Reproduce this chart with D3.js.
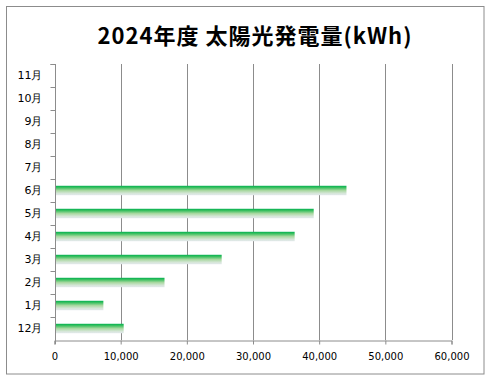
<!DOCTYPE html>
<html>
<head>
<meta charset="utf-8">
<script src="https://cdn.jsdelivr.net/npm/d3@7"></script>
<style>
  body { margin: 0; background: #fff; }
</style>
</head>
<body>
<script>
var title = "2024年度 太陽光発電量(kWh)"
var months = ["12月", "1月", "2月", "3月", "4月", "5月", "6月", "7月", "8月", "9月", "10月", "11月"]
var values = [10380, 7310, 16550, 25190, 36220, 39100, 44050, null, null, null, null, null]
var xTicks = [0, 10000, 20000, 30000, 40000, 50000, 60000]

var W = 490, H = 382
var mLeft = 54.5, mRight = 451.5, mTop = 64, mBottom = 340

var svg = d3.select("body").append("svg")
    .attr("width", W)
    .attr("height", H)

// gradient for bars: green on top fading to pale grey
var grad = svg.append("defs").append("linearGradient")
    .attr("id", "barGrad")
    .attr("x1", 0).attr("y1", 0).attr("x2", 0).attr("y2", 1)
grad.append("stop").attr("offset", "0%").attr("stop-color", "#00b050")
grad.append("stop").attr("offset", "20%").attr("stop-color", "#3cc060")
grad.append("stop").attr("offset", "50%").attr("stop-color", "#a8d8a0")
grad.append("stop").attr("offset", "80%").attr("stop-color", "#d6e6d8")
grad.append("stop").attr("offset", "100%").attr("stop-color", "#e2e8ec")

// outer frame
svg.append("rect")
    .attr("x", 6.5).attr("y", 6.5)
    .attr("width", 477.5).attr("height", 367.5)
    .attr("fill", "#fff")
    .attr("stroke", "#8c8c8c")
    .attr("stroke-width", 1)

svg.append("text")
    .attr("x", 255).attr("y", 44)
    .attr("text-anchor", "middle")
    .style("font-family", "'Noto Sans CJK JP', sans-serif")
    .style("font-weight", "bold")
    .style("font-size", "22px")
    .style("letter-spacing", "1px")
    .text(title)

var x = d3.scaleLinear().domain([0, 60000]).range([mLeft, mRight])
var y = d3.scaleBand().domain(months).range([mBottom, mTop]).paddingInner(0.59).paddingOuter(0.295)
var yb = d3.scaleBand().domain(months).range([mBottom, mTop])

// vertical gridlines
svg.append("g")
  .selectAll("line")
  .data(xTicks.slice(1))
  .enter().append("line")
    .attr("x1", function(d) { return Math.round(x(d)) + 0.5 })
    .attr("x2", function(d) { return Math.round(x(d)) + 0.5 })
    .attr("y1", mTop)
    .attr("y2", mBottom)
    .attr("stroke", "#8c8c8c")

// bars
svg.append("g")
  .selectAll("rect")
  .data(months.map(function(m, i) { return { m: m, v: values[i] } }).filter(function(d) { return d.v != null }))
  .enter().append("rect")
    .attr("x", x(0) + 0.5)
    .attr("y", function(d) { return y(d.m) })
    .attr("width", function(d) { return x(d.v) - x(0) })
    .attr("height", y.bandwidth())
    .attr("fill", "url(#barGrad)")

// x axis
var xAxis = svg.append("g")
    .attr("transform", "translate(0," + (mBottom + 0.5) + ")")
    .call(d3.axisBottom(x).tickValues(xTicks).tickSize(4).tickPadding(8)
      .tickFormat(d3.format(",")))

// y axis with ticks between categories
var yAxis = svg.append("g")
    .attr("transform", "translate(" + (Math.round(mLeft) + 0.5) + ",0)")
yAxis.append("line")
    .attr("y1", mTop).attr("y2", mBottom + 4)
    .attr("stroke", "#8c8c8c")
yAxis.selectAll("line.tick")
  .data(months)
  .enter().append("line")
    .attr("class", "tick")
    .attr("x1", -5).attr("x2", 0)
    .attr("y1", function(d) { return Math.round(yb(d)) + 0.5 })
    .attr("y2", function(d) { return Math.round(yb(d)) + 0.5 })
    .attr("stroke", "#8c8c8c")
yAxis.append("line")
    .attr("x1", -5).attr("x2", 0)
    .attr("y1", mTop + 0.5).attr("y2", mTop + 0.5)
    .attr("stroke", "#8c8c8c")
yAxis.selectAll("text")
  .data(months)
  .enter().append("text")
    .attr("x", -13)
    .attr("y", function(d) { return yb(d) + yb.bandwidth() / 2 })
    .attr("dy", "0.35em")
    .attr("text-anchor", "end")
    .style("font-family", "'DejaVu Sans', sans-serif")
    .style("font-size", "11px")
    .text(function(d) { return d })

xAxis.select(".domain").attr("stroke", "#8c8c8c")
xAxis.selectAll(".tick line").attr("stroke", "#8c8c8c")
xAxis.selectAll("text")
    .style("font-family", "'DejaVu Sans', sans-serif")
    .style("font-size", "10px")
    .attr("fill", "#000")
</script>
</body>
</html>
